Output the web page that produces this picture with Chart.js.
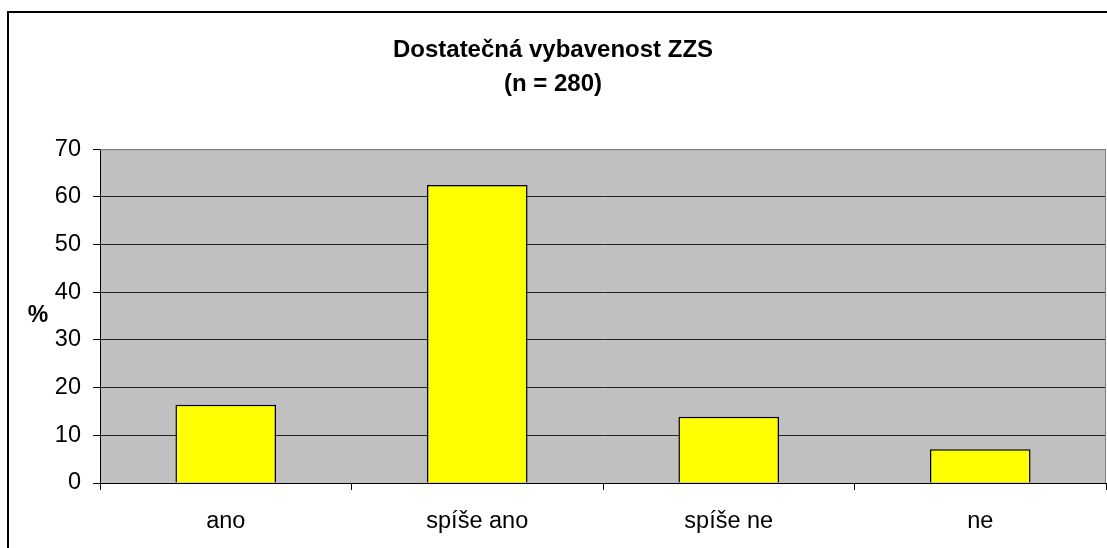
<!DOCTYPE html>
<html>
<head>
<meta charset="utf-8">
<script src="https://cdn.jsdelivr.net/npm/chart.js@4/dist/chart.umd.min.js"></script>
<style>
  html, body { margin: 0; padding: 0; background: #fff; }
  #wrap { width: 1107px; height: 548px; }
</style>
</head>
<body>
<div id="wrap"><canvas id="chart" width="1107" height="548"></canvas></div>
<script>
// data
const categories = ['ano', 'spíše ano', 'spíše ne', 'ne'];
const percentValues = [16.4, 62.5, 13.9, 7.1];
const yTicks = [0, 10, 20, 30, 40, 50, 60, 70];
const titleLines = ['Dostatečná vybavenost ZZS', '(n = 280)'];
const yLabel = '%';

const FONT = "'Liberation Sans', Arial, sans-serif";

// plot area background, outer frame and the flat "%" label
const decor = {
    id: 'decor',
    beforeDraw(chart) {
        const c = chart.ctx, a = chart.chartArea;
        c.save();
        c.fillStyle = '#fff';
        c.fillRect(0, 0, chart.width, chart.height);
        c.strokeStyle = '#000';
        c.lineWidth = 2;
        c.strokeRect(8, 12, chart.width + 20, chart.height + 20);
        c.fillStyle = '#c0c0c0';
        c.fillRect(a.left, a.top, a.right - a.left, a.bottom - a.top);
        c.restore();
    },
    afterDraw(chart) {
        const c = chart.ctx, a = chart.chartArea;
        c.save();
        c.strokeStyle = '#808080';
        c.lineWidth = 1;
        c.beginPath();
        c.moveTo(a.left, a.top + 0.5);
        c.lineTo(a.right - 0.5, a.top + 0.5);
        c.lineTo(a.right - 0.5, a.bottom);
        c.stroke();
        c.fillStyle = '#000';
        c.font = 'bold 23px ' + FONT;
        c.textAlign = 'center';
        c.textBaseline = 'middle';
        c.fillText(yLabel, 38, 316);
        c.restore();
    }
};

new Chart(document.getElementById('chart'), {
    type: 'bar',
    data: {
        labels: categories,
        datasets: [{
            data: percentValues,
            backgroundColor: '#ffff00',
            borderColor: '#000',
            borderWidth: 1.5,
            barPercentage: 0.4,
            categoryPercentage: 1
        }]
    },
    options: {
        responsive: false,
        animation: false,
        layout: { padding: { left: 0, right: 1, top: 0, bottom: 0 } },
        plugins: {
            legend: { display: false },
            tooltip: { enabled: false },
            title: {
                display: true,
                text: titleLines,
                color: '#000',
                font: { family: FONT, size: 24, weight: 'bold', lineHeight: 1.42 },
                padding: { top: 33, bottom: 48 }
            }
        },
        scales: {
            x: {
                grid: {
                    offset: true,
                    drawOnChartArea: false,
                    drawTicks: true,
                    tickLength: 7,
                    tickColor: '#000'
                },
                border: { color: '#000' },
                ticks: { color: '#000', font: { family: FONT, size: 23.5 }, padding: 17, maxRotation: 0 },
                afterFit(scale) { scale.height = 65; }
            },
            y: {
                min: 0,
                max: 70,
                afterBuildTicks(scale) { scale.ticks = yTicks.map(v => ({ value: v })); },
                grid: {
                    color: ctx => ctx.tick && ctx.tick.value === 70 ? '#808080' : '#222',
                    tickColor: '#000',
                    tickLength: 7
                },
                border: { color: '#000' },
                ticks: { color: '#000', font: { family: FONT, size: 23.5 }, padding: 12 },
                afterFit(scale) { scale.width = 100; }
            }
        }
    },
    plugins: [decor]
});
</script>
</body>
</html>
